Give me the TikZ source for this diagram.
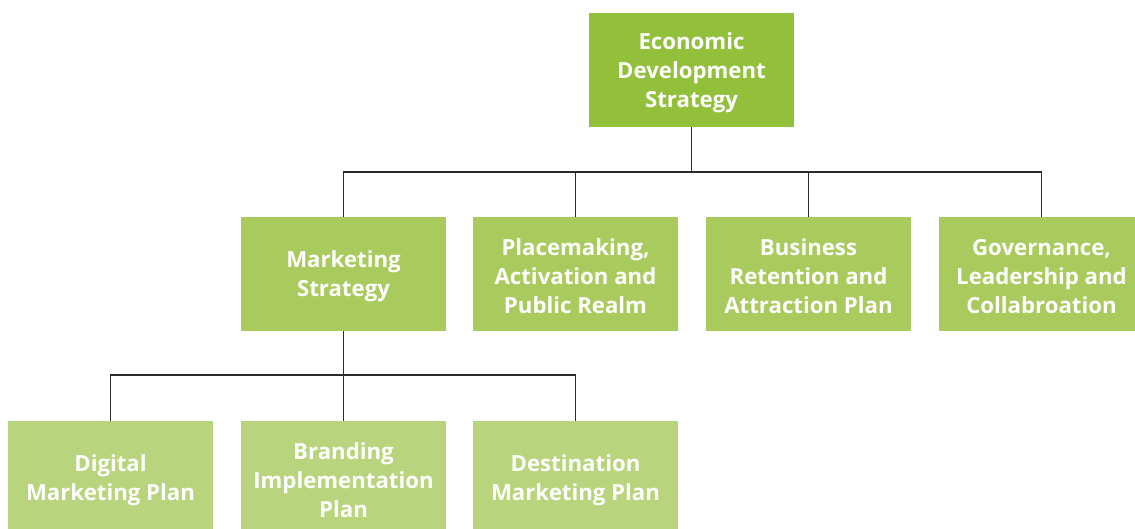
\documentclass[tikz,border=0pt]{standalone}
\usepackage{fontspec}
\setmainfont{Open Sans}
\definecolor{gA}{HTML}{93C03B}
\definecolor{gB}{HTML}{A9CB5D}
\definecolor{gC}{HTML}{B8D47D}
\definecolor{lineC}{HTML}{2B2B2B}
\begin{document}
\begin{tikzpicture}[x=1pt,y=-1pt,
  box/.style={rectangle, minimum width=205pt, minimum height=114pt, inner sep=0pt},
  txt/.style={text=white, align=center, inner sep=0pt, yshift=-2.5pt,
    font=\bfseries\fontsize{22.2}{29}\selectfont},
  lvA/.style={box, fill=gA},
  lvB/.style={box, fill=gB},
  lvC/.style={box, fill=gC},
  conn/.style={draw=lineC, line width=1.6pt}]
\clip (0,0) rectangle (1135,529);
\fill[white] (0,0) rectangle (1135,529);
\node[lvA, label={[txt]center:Economic\\Development\\Strategy}] (eds) at (691.5,70) {};
\node[lvB, label={[txt]center:Marketing\\Strategy}] (ms) at (343.5,274) {};
\node[lvB, label={[txt]center:Placemaking,\\Activation and\\Public Realm}] (pm) at (575.5,274) {};
\node[lvB, label={[txt]center:Business\\Retention and\\Attraction Plan}] (br) at (808.5,274) {};
\node[lvB, label={[txt]center:Governance,\\Leadership and\\Collabroation}] (gov) at (1041.5,274) {};
\node[lvC, label={[txt]center:Digital\\Marketing Plan}] (dm) at (110.5,478) {};
\node[lvC, label={[txt]center:Branding\\Implementation\\Plan}] (bi) at (343.5,478) {};
\node[lvC, label={[txt]center:Destination\\Marketing Plan}] (dp) at (575.5,478) {};
\coordinate (busA) at (691.5,172);
\coordinate (busB) at (343.5,375);
\draw[conn] (eds.south) -- (busA);
\draw[conn] (ms.north) |- (busA) -| (gov.north);
\draw[conn] (pm.north) -- (pm.north |- busA);
\draw[conn] (br.north) -- (br.north |- busA);
\draw[conn] (ms.south) -- (bi.north);
\draw[conn] (dm.north) |- (busB) -| (dp.north);
\end{tikzpicture}
\end{document}
